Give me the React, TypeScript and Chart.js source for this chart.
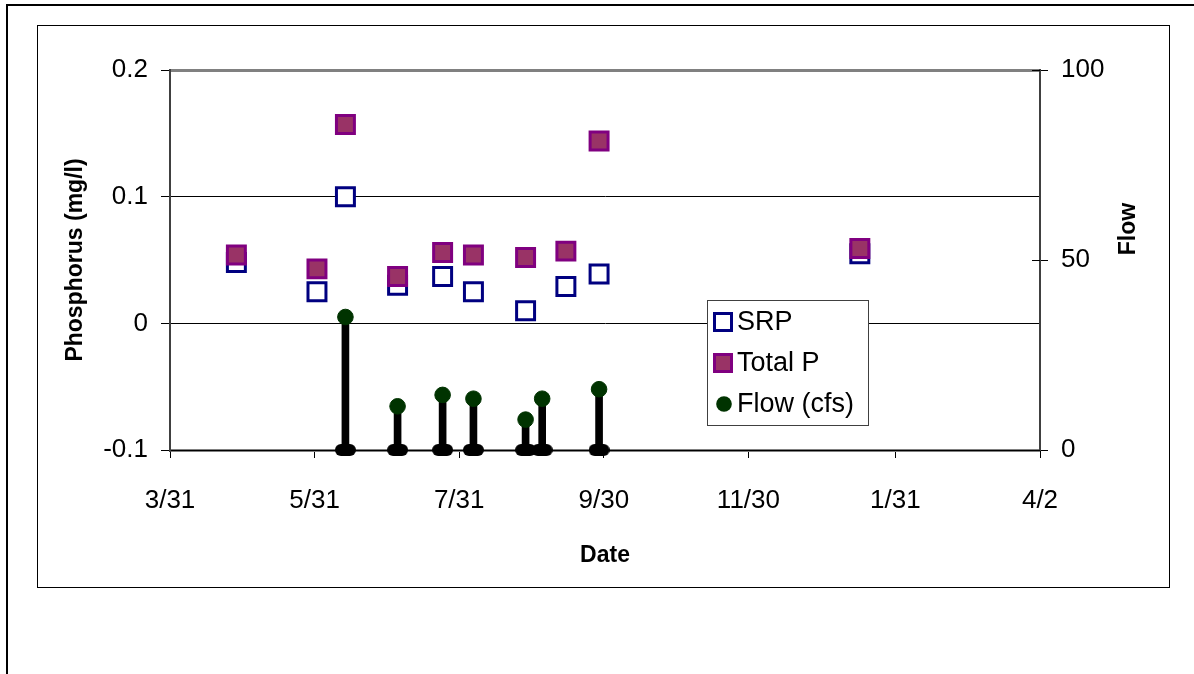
import React, { useEffect, useRef } from "react";
import { Chart, registerables } from "chart.js";

Chart.register(...registerables);

// ---- data ----
const xTickDays = [0, 61, 122, 183, 244, 306, 367];
const xTickLabels = ["3/31", "5/31", "7/31", "9/30", "11/30", "1/31", "4/2"];
const yTickValues = [-0.1, 0, 0.1, 0.2];
const yTickLabels = ["-0.1", "0", "0.1", "0.2"];
const y1TickValues = [0, 50, 100];
const y1TickLabels = ["0", "50", "100"];

const sampleDays = [28, 62, 74, 96, 115, 128, 150, 167, 181, 291];
const srpValues = [0.048, 0.025, 0.1, 0.03, 0.037, 0.025, 0.01, 0.029, 0.039, 0.055];
const totalPValues = [0.054, 0.043, 0.157, 0.037, 0.056, 0.054, 0.052, 0.057, 0.144, 0.059];

const flowDays = [74, 96, 115, 128, 150, 157, 181];
const flowValues = [35, 11.5, 14.5, 13.5, 8, 13.5, 16];

const FONT = '"Liberation Sans", Arial, Helvetica, sans-serif';

function makePill(w: number, h: number, color: string) {
  const c = document.createElement("canvas");
  c.width = w;
  c.height = h;
  const g = c.getContext("2d")!;
  const r = h / 2;
  g.fillStyle = color;
  g.beginPath();
  g.moveTo(r, 0);
  g.lineTo(w - r, 0);
  g.arc(w - r, r, r, -Math.PI / 2, Math.PI / 2);
  g.lineTo(r, h);
  g.arc(r, r, r, Math.PI / 2, (3 * Math.PI) / 2);
  g.closePath();
  g.fill();
  return c;
}

const extrasPlugin = {
  id: "extras",
  afterDraw(chart: any) {
    const { ctx, chartArea, scales } = chart;
    const y1 = scales.y1;
    ctx.save();
    // inner half of right-axis tick marks (cross ticks)
    ctx.strokeStyle = "#000";
    ctx.lineWidth = 1;
    y1.ticks.forEach((t: any) => {
      const py = Math.round(y1.getPixelForValue(t.value)) + 0.5;
      ctx.beginPath();
      ctx.moveTo(chartArea.right - 8, py);
      ctx.lineTo(chartArea.right, py);
      ctx.stroke();
    });

    // right axis title, reading bottom-to-top
    ctx.save();
    ctx.font = `bold 23px ${FONT}`;
    ctx.fillStyle = "#000";
    ctx.textAlign = "center";
    ctx.textBaseline = "middle";
    ctx.translate(1129, 229);
    ctx.rotate(-Math.PI / 2);
    ctx.fillText("Flow", 0, 0);
    ctx.restore();

    // legend box
    const bx = 707.5, by = 300.5, bw = 161, bh = 125;
    ctx.fillStyle = "#fff";
    ctx.fillRect(bx, by, bw, bh);
    ctx.strokeStyle = "#404040";
    ctx.lineWidth = 1;
    ctx.strokeRect(bx, by, bw, bh);

    const ds = chart.data.datasets;
    const rows = [322, 363, 404];
    const mx = 723;
    // SRP
    ctx.lineWidth = 3;
    ctx.fillStyle = ds[0].backgroundColor;
    ctx.strokeStyle = ds[0].borderColor;
    ctx.fillRect(mx - 8.5, rows[0] - 8.5, 17, 17);
    ctx.strokeRect(mx - 8.5, rows[0] - 8.5, 17, 17);
    // Total P
    ctx.fillStyle = ds[1].backgroundColor;
    ctx.strokeStyle = ds[1].borderColor;
    ctx.fillRect(mx - 8.5, rows[1] - 8.5, 17, 17);
    ctx.strokeRect(mx - 8.5, rows[1] - 8.5, 17, 17);
    // Flow
    ctx.fillStyle = ds[2].backgroundColor;
    ctx.beginPath();
    ctx.arc(mx + 1, rows[2], 7.8, 0, Math.PI * 2);
    ctx.fill();

    ctx.font = `27px ${FONT}`;
    ctx.fillStyle = "#000";
    ctx.textAlign = "left";
    ctx.textBaseline = "middle";
    ctx.fillText(ds[0].label, 737, rows[0] + 1);
    ctx.fillText(ds[1].label, 737, rows[1] + 1);
    ctx.fillText(ds[2].label, 737, rows[2] + 1);
    ctx.restore();
  },
};

export default function App() {
  const ref = useRef<HTMLCanvasElement | null>(null);

  useEffect(() => {
    if (!ref.current) return;
    const pill = makePill(21, 12, "#000");
    const chart = new Chart(ref.current, {
      type: "scatter",
      data: {
        datasets: [
          {
            type: "scatter",
            label: "SRP",
            data: sampleDays.map((d, i) => ({ x: d, y: srpValues[i] })),
            yAxisID: "y",
            pointStyle: "rect",
            pointRadius: 12.7,
            backgroundColor: "#ffffff",
            borderColor: "#000080",
            borderWidth: 3,
            order: 5,
            clip: false,
          },
          {
            type: "scatter",
            label: "Total P",
            data: sampleDays.map((d, i) => ({ x: d, y: totalPValues[i] })),
            yAxisID: "y",
            pointStyle: "rect",
            pointRadius: 12.7,
            backgroundColor: "#993366",
            borderColor: "#800080",
            borderWidth: 3,
            order: 4,
            clip: false,
          },
          {
            type: "scatter",
            label: "Flow (cfs)",
            data: flowDays.map((d, i) => ({ x: d, y: flowValues[i] })),
            yAxisID: "y1",
            pointStyle: "circle",
            pointRadius: 7.8,
            backgroundColor: "#003300",
            borderColor: "#003300",
            borderWidth: 1,
            order: 1,
            clip: false,
          },
          {
            type: "bar",
            label: "stems",
            data: flowDays.map((d, i) => ({ x: d, y: flowValues[i] })),
            yAxisID: "y1",
            backgroundColor: "#000",
            borderWidth: 0,
            barThickness: 7,
            order: 3,
            clip: false,
          } as any,
          {
            type: "scatter",
            label: "base",
            data: flowDays.map((d) => ({ x: d, y: 0 })),
            yAxisID: "y1",
            pointStyle: pill as any,
            pointRadius: 10,
            order: 2,
            clip: false,
          },
        ],
      },
      options: {
        responsive: false,
        animation: false,
        devicePixelRatio: 1,
        events: [],
        layout: { padding: { left: 0, right: 0, top: 70, bottom: 0 } },
        plugins: { legend: { display: false }, tooltip: { enabled: false } },
        scales: {
          x: {
            type: "linear",
            position: "bottom",
            min: 0,
            max: 367,
            offset: false,
            afterBuildTicks: (s: any) => {
              s.ticks = xTickDays.map((v) => ({ value: v }));
            },
            afterFit: (s: any) => {
              s.height = 224;
            },
            ticks: {
              callback: (_v: any, i: number) => xTickLabels[i],
              font: { family: FONT, size: 26 },
              color: "#000",
              padding: 27,
              maxRotation: 0,
              autoSkip: false,
            },
            grid: {
              drawOnChartArea: false,
              drawTicks: true,
              tickLength: 8,
              tickColor: "#000",
              tickWidth: 1,
              offset: false,
            },
            border: { display: true, color: "#000", width: 1 },
            title: {
              display: true,
              text: "Date",
              color: "#000",
              font: { family: FONT, size: 23, weight: "bold" },
              padding: { top: 0, bottom: 105 },
            },
          },
          y: {
            type: "linear",
            position: "left",
            min: -0.1,
            max: 0.2,
            afterBuildTicks: (s: any) => {
              s.ticks = yTickValues.map((v) => ({ value: v }));
            },
            afterFit: (s: any) => {
              s.width = 170;
            },
            ticks: {
              callback: (_v: any, i: number) => yTickLabels[i],
              font: { family: FONT, size: 26 },
              color: "#000",
              padding: 13,
            },
            grid: {
              color: (c: any) => (c.index === 0 || c.index === 3 ? "#808080" : "#000"),
              lineWidth: (c: any) => (c.index === 0 || c.index === 3 ? 3 : 1),
              drawTicks: true,
              tickLength: 9,
              tickColor: "#000",
              tickWidth: 1,
            },
            border: { display: true, color: "#404040", width: 2 },
            title: {
              display: true,
              text: "Phosphorus (mg/l)",
              color: "#000",
              font: { family: FONT, size: 23, weight: "bold" },
              padding: { top: 62, bottom: 0 },
            },
          },
          y1: {
            type: "linear",
            position: "right",
            min: 0,
            max: 100,
            afterBuildTicks: (s: any) => {
              s.ticks = y1TickValues.map((v) => ({ value: v }));
            },
            afterFit: (s: any) => {
              s.width = 154;
            },
            ticks: {
              callback: (_v: any, i: number) => y1TickLabels[i],
              font: { family: FONT, size: 26 },
              color: "#000",
              padding: 13,
            },
            grid: {
              drawOnChartArea: false,
              drawTicks: true,
              tickLength: 8,
              tickColor: "#000",
              tickWidth: 1,
            },
            border: { display: true, color: "#404040", width: 2 },
          },
        },
      },
      plugins: [extrasPlugin],
    } as any);
    return () => chart.destroy();
  }, []);

  return (
    <div style={{ position: "absolute", left: 0, top: 0, width: 1194, height: 674, background: "#fff", overflow: "hidden" }}>
      <canvas ref={ref} width={1194} height={674} style={{ position: "absolute", left: 0, top: 0, width: 1194, height: 674 }} />
      <div style={{ position: "absolute", left: 6, top: 4, width: 1200, height: 700, borderTop: "2px solid #000", borderLeft: "2px solid #000", pointerEvents: "none" }} />
      <div style={{ position: "absolute", left: 37, top: 25, width: 1131, height: 561, border: "1px solid #000", pointerEvents: "none" }} />
    </div>
  );
}
